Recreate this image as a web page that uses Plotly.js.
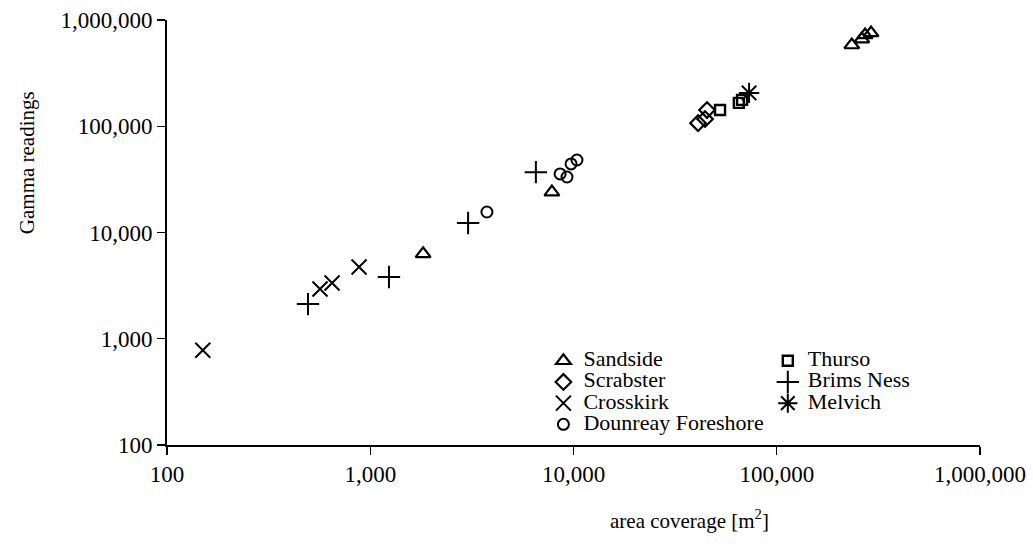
<!DOCTYPE html>
<html>
<head>
<meta charset="utf-8">
<script src="https://cdn.plot.ly/plotly-3.0.1.min.js"></script>
<style>
  html, body { margin: 0; padding: 0; background: #fff; }
  #chart { width: 1033px; height: 546px; }
</style>
</head>
<body>
<div id="chart"></div>
<script>
// Survey sites: area covered (m²) against gamma readings
const sandsideArea   = [1820, 7830, 234000, 262000, 272000, 291000];
const sandsideGamma  = [6300, 24000, 582000, 662000, 723000, 755000];

const thursoArea     = [52600, 65100, 67500];
const thursoGamma    = [142000, 166000, 177000];

const scrabsterArea  = [41000, 44400, 45400];
const scrabsterGamma = [107000, 117000, 142000];

const brimsArea      = [494, 1236, 3030, 6530];
const brimsGamma     = [2120, 3810, 12300, 37000];

const crosskirkArea  = [150, 566, 649, 881];
const crosskirkGamma = [780, 2940, 3350, 4730];

const melvichArea    = [73100];
const melvichGamma   = [206000];

const dounreayArea   = [3750, 8590, 9290, 9730, 10400];
const dounreayGamma  = [15600, 35600, 33300, 44200, 48100];

const tickValues = [100, 1000, 10000, 100000, 1000000];
const tickLabels = ['100', '1,000', '10,000', '100,000', '1,000,000'];

const serif = 'Liberation Serif, Times New Roman, serif';
// legend rows are kept tight: small base font, larger text via span style
const LEG = 'font-size:22px';

function site(name, xs, ys, symbol, size, width, legend) {
  return {
    type: 'scatter', mode: 'markers', name: '<span style="' + LEG + '">' + name + '</span>',
    x: xs, y: ys, legend: legend,
    marker: { symbol: symbol, size: size, color: '#000', line: { color: '#000', width: width } },
    hoverinfo: 'x+y'
  };
}

const traces = [
  site('Sandside', sandsideArea, sandsideGamma, 'triangle-up-open', 13, 2.2, 'legend'),
  site('Scrabster', scrabsterArea, scrabsterGamma, 'diamond-open', 12, 2.2, 'legend'),
  site('Crosskirk', crosskirkArea, crosskirkGamma, 'x-thin-open', 15, 2, 'legend'),
  site('Dounreay Foreshore', dounreayArea, dounreayGamma, 'circle-open', 11, 2, 'legend'),
  site('Thurso', thursoArea, thursoGamma, 'square-open', 10, 2.4, 'legend2'),
  site('Brims Ness', brimsArea, brimsGamma, 'cross-thin-open', 16, 2, 'legend2'),
  site('Melvich', melvichArea, melvichGamma, 'asterisk-open', 17, 2, 'legend2')
];

const axisCommon = {
  type: 'log',
  showgrid: false, zeroline: false,
  showline: true, linecolor: '#000', linewidth: 1.8,
  ticks: 'outside', ticklen: 8, tickwidth: 1.3, tickcolor: '#000',
  tickmode: 'array', tickvals: tickValues, ticktext: tickLabels,
  tickfont: { family: serif, size: 23, color: '#000' }
};

const legendCommon = {
  font: { family: serif, size: 14, color: '#000' },
  bgcolor: 'rgba(0,0,0,0)', borderwidth: 0,
  yanchor: 'top', xanchor: 'left', tracegroupgap: 0
};

const layout = {
  width: 1033, height: 546,
  margin: { l: 167, r: 53, t: 20, b: 101 },
  paper_bgcolor: '#fff', plot_bgcolor: '#fff',
  showlegend: true,
  xaxis: Object.assign({}, axisCommon, { range: [2, 6] }),
  yaxis: Object.assign({}, axisCommon, { range: [2, 6] }),
  legend: Object.assign({}, legendCommon, { x: 0.463, y: 0.235 }),
  legend2: Object.assign({}, legendCommon, { x: 0.739, y: 0.235 }),
  annotations: [
    { text: 'Gamma readings', xref: 'paper', yref: 'paper', x: -0.172, y: 0.6635,
      xanchor: 'center', yanchor: 'middle',
      textangle: -90, showarrow: false, font: { family: serif, size: 21, color: '#000' } },
    { text: 'area coverage [m<sup>2</sup>]', xref: 'paper', yref: 'paper', x: 0.643, y: -0.175,
      xanchor: 'center', yanchor: 'middle',
      showarrow: false, font: { family: serif, size: 21, color: '#000' } }
  ]
};

Plotly.newPlot('chart', traces, layout, { displayModeBar: false, staticPlot: true });
</script>
</body>
</html>
